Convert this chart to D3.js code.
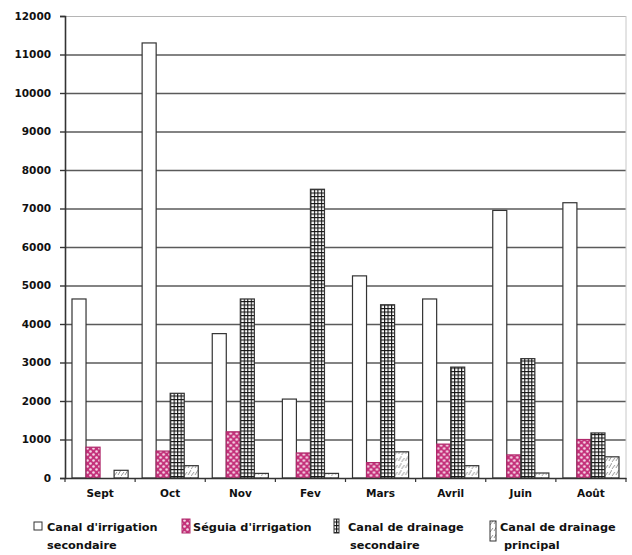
<!DOCTYPE html>
<html>
<head>
<meta charset="utf-8">
<script src="https://cdn.jsdelivr.net/npm/d3@7/dist/d3.min.js"></script>
<style>
  html, body { margin: 0; padding: 0; background: #fff; }
  svg { display: block; }
  text { font-family: "DejaVu Sans", Arial, sans-serif; font-weight: bold; fill: #111; }
</style>
</head>
<body>
<svg id="chart" width="632" height="555"></svg>
<script>
// Months of the survey
const months = ["Sept", "Oct", "Nov", "Fev", "Mars", "Avril", "Juin", "Août"];

// Series values per month
const canalIrrigationSecondaire = [4650, 11300, 3750, 2050, 5250, 4650, 6950, 7150];
const seguiaIrrigation          = [800, 700, 1200, 650, 400, 880, 600, 1000];
const canalDrainageSecondaire   = [0, 2200, 4650, 7500, 4500, 2880, 3100, 1170];
const canalDrainagePrincipal    = [200, 320, 120, 120, 680, 320, 130, 550];

const seriesKeys = ["cis", "si", "cds", "cdp"];
const seriesLabels = [
  ["Canal d'irrigation", "secondaire"],
  ["Séguia d'irrigation"],
  ["Canal de drainage", "secondaire"],
  ["Canal de drainage", "principal"]
];
const yTicks = d3.range(0, 12001, 1000);

const seriesValues = [canalIrrigationSecondaire, seguiaIrrigation, canalDrainageSecondaire, canalDrainagePrincipal];
const rows = months.map((m, i) => {
  const r = { month: m };
  seriesKeys.forEach((k, j) => r[k] = seriesValues[j][i]);
  return r;
});

const svg = d3.select("#chart");
const plotLeft = 65, plotRight = 626, plotTop = 16, plotBottom = 478;

// Fill patterns
const defs = svg.append("defs");

// dotted magenta
const pDots = defs.append("pattern").attr("id", "dots").attr("patternUnits", "userSpaceOnUse")
  .attr("width", 6).attr("height", 6);
pDots.append("rect").attr("width", 6).attr("height", 6).attr("fill", "#c4317a");
pDots.append("circle").attr("cx", 1.5).attr("cy", 1.5).attr("r", 1.3).attr("fill", "#f4d6e6");
pDots.append("circle").attr("cx", 4.5).attr("cy", 4.5).attr("r", 1.3).attr("fill", "#f4d6e6");

// small grid
const pGrid = defs.append("pattern").attr("id", "grid").attr("patternUnits", "userSpaceOnUse")
  .attr("width", 3.5).attr("height", 3.5);
pGrid.append("rect").attr("width", 3.5).attr("height", 3.5).attr("fill", "#fff");
pGrid.append("path").attr("d", "M0,0.5H3.5M0.5,0V3.5").attr("stroke", "#111").attr("stroke-width", 1.2);

// light diagonal strokes
const pDiag = defs.append("pattern").attr("id", "diag").attr("patternUnits", "userSpaceOnUse")
  .attr("width", 7).attr("height", 7);
pDiag.append("rect").attr("width", 7).attr("height", 7).attr("fill", "#fff");
pDiag.append("path").attr("d", "M0,7L3,3M4,6L7,1").attr("stroke", "#888").attr("stroke-width", 0.9);

const fills = { cis: "#fff", si: "url(#dots)", cds: "url(#grid)", cdp: "url(#diag)" };

// Scales
const x = d3.scaleBand().domain(months).range([plotLeft, plotRight]).paddingInner(0).paddingOuter(0);
const xs = d3.scaleBand().domain(seriesKeys).range([7, x.bandwidth() - 7]).padding(0);
const y = d3.scaleLinear().domain([0, 12000]).range([plotBottom, plotTop]);

// Horizontal gridlines
svg.append("g")
  .attr("transform", `translate(${plotLeft},0)`)
  .call(d3.axisLeft(y).tickValues(yTicks.slice(1)).tickSize(-(plotRight - plotLeft)).tickFormat(""))
  .call(g => g.select(".domain").remove())
  .call(g => g.selectAll(".tick line").attr("stroke", "#5a5a5a").attr("stroke-width", 1.6))
  .call(g => g.selectAll(".tick:last-of-type line").attr("stroke", "#b5b5b5").attr("stroke-width", 1.2));

// Right border of plot area
svg.append("line").attr("x1", plotRight).attr("x2", plotRight).attr("y1", plotTop).attr("y2", plotBottom)
  .attr("stroke", "#c8c8c8").attr("stroke-width", 1);

// Bars
const groups = svg.append("g").selectAll("g").data(rows).join("g")
  .attr("transform", d => `translate(${x(d.month)},0)`);
groups.selectAll("rect")
  .data(d => seriesKeys.map(k => ({ key: k, value: d[k] })).filter(e => e.value > 0))
  .join("rect")
  .attr("x", d => xs(d.key))
  .attr("y", d => y(d.value))
  .attr("width", xs.bandwidth())
  .attr("height", d => y(0) - y(d.value))
  .attr("fill", d => fills[d.key])
  .attr("stroke", d => d.key === "si" ? "#b02a6c" : "#333")
  .attr("stroke-width", 1.2);

// Y axis
svg.append("g")
  .attr("transform", `translate(${plotLeft},0)`)
  .call(d3.axisLeft(y).tickValues(yTicks).tickSize(5).tickPadding(9).tickFormat(d3.format("d")))
  .call(g => g.select(".domain").attr("stroke", "#333").attr("stroke-width", 1.6))
  .call(g => g.selectAll(".tick line").attr("stroke", "#333").attr("stroke-width", 1.4))
  .call(g => g.selectAll(".tick text").attr("font-size", 10.5).attr("font-family", "DejaVu Sans").attr("font-weight", "bold").attr("fill", "#111"));

// X axis: baseline with category labels
svg.append("g")
  .attr("transform", `translate(0,${plotBottom})`)
  .call(d3.axisBottom(x).tickSize(0).tickPadding(12))
  .call(g => g.select(".domain").attr("stroke", "#333").attr("stroke-width", 1.6))
  .call(g => g.selectAll(".tick text").attr("font-size", 10.5).attr("font-family", "DejaVu Sans").attr("font-weight", "bold").attr("fill", "#111"));

// Boundary ticks between categories
const bounds = months.map(m => x(m)).concat([x(months[months.length - 1]) + x.bandwidth()]);
svg.append("g").selectAll("line").data(bounds).join("line")
  .attr("x1", d => d).attr("x2", d => d)
  .attr("y1", plotBottom).attr("y2", plotBottom + 4)
  .attr("stroke", "#333").attr("stroke-width", 1.2);

// Legend
const legendPos = [
  { sx: 34, sy: 522, sw: 8, sh: 8, tx: 47 },
  { sx: 182, sy: 519, sw: 8, sh: 14, tx: 193 },
  { sx: 334, sy: 519, sw: 5, sh: 14, tx: 348, t2x: 350 },
  { sx: 490, sy: 521, sw: 6, sh: 20, tx: 500, t2x: 504 }
];
const legend = svg.append("g");
seriesKeys.forEach((k, i) => {
  const p = legendPos[i];
  legend.append("rect").attr("x", p.sx).attr("y", p.sy).attr("width", p.sw).attr("height", p.sh)
    .attr("fill", fills[k]).attr("stroke", k === "si" ? "#b02a6c" : "#333").attr("stroke-width", 1);
  seriesLabels[i].forEach((line, j) => {
    legend.append("text")
      .attr("x", j === 0 ? p.tx : (p.t2x || p.tx))
      .attr("y", 531 + j * 18)
      .attr("font-size", 11.3)
      .text(line);
  });
});
</script>
</body>
</html>
